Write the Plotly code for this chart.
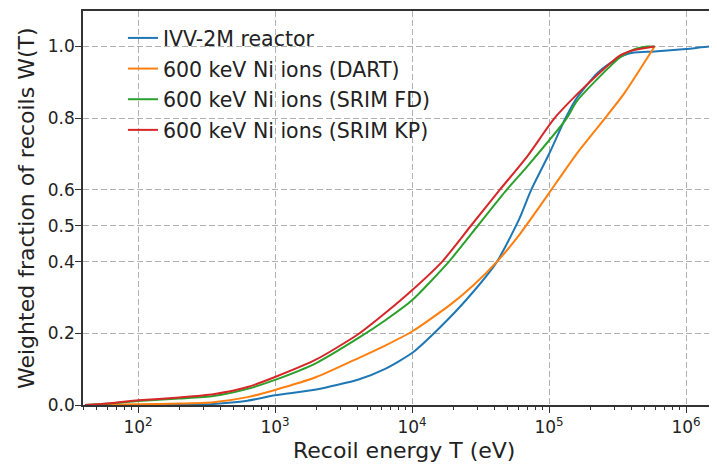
import plotly.graph_objects as go

# ---- data ----
reactor_T = [41, 100, 200, 355, 631, 1000, 2000, 4070, 6310, 10000, 15850, 25100,
             41700, 60300, 74100, 100000, 131800, 158500, 224000, 302000, 355000,
             417000, 589000, 1000000, 1479000, 1660000]
reactor_W = [0.0, 0.0, 0.001, 0.003, 0.012, 0.027, 0.043, 0.071, 0.10, 0.145, 0.215, 0.295,
             0.40, 0.517, 0.60, 0.70, 0.80, 0.855, 0.925, 0.962, 0.976,
             0.983, 0.986, 0.993, 1.0, 1.0]

dart_T = [41, 100, 200, 355, 631, 1000, 2000, 4070, 6310, 10000, 19050, 28180, 41700,
          60300, 72400, 100000, 158500, 269000, 355000, 589000]
dart_W = [0.0, 0.002, 0.004, 0.008, 0.022, 0.042, 0.078, 0.131, 0.165, 0.205, 0.28, 0.335, 0.40,
          0.473, 0.515, 0.591, 0.70, 0.81, 0.87, 1.0]

srim_fd_T = [41, 63, 100, 200, 355, 631, 1000, 2000, 4070, 6310, 10000, 18600, 30200,
             49000, 69200, 134900, 158500, 234400, 331000, 417000, 525000, 589000]
srim_fd_W = [0.0, 0.004, 0.011, 0.018, 0.025, 0.045, 0.070, 0.117, 0.187, 0.235, 0.292, 0.40, 0.50,
             0.60, 0.665, 0.80, 0.846, 0.916, 0.97, 0.992, 1.0, 1.0]

srim_kp_T = [41, 63, 100, 200, 355, 631, 1000, 2000, 4070, 6310, 10000, 16600, 26900,
             43650, 69200, 109600, 158500, 224000, 331000, 417000, 589000]
srim_kp_W = [0.0, 0.005, 0.013, 0.021, 0.030, 0.050, 0.078, 0.127, 0.198, 0.255, 0.320, 0.40, 0.50,
             0.60, 0.693, 0.80, 0.865, 0.92, 0.975, 0.99, 1.0]

series_names = ["IVV-2M reactor", "600 keV Ni ions (DART)",
                "600 keV Ni ions (SRIM FD)", "600 keV Ni ions (SRIM KP)"]
series_colors = ["#1f77b4", "#ff7f0e", "#2ca02c", "#d62728"]

x_tickvals = [1e2, 1e3, 1e4, 1e5, 1e6]
x_ticktext = ["10<sup>2</sup>", "10<sup>3</sup>", "10<sup>4</sup>", "10<sup>5</sup>", "10<sup>6</sup>"]
y_tickvals = [0.0, 0.2, 0.4, 0.5, 0.6, 0.8, 1.0]
y_ticktext = ["0.0", "0.2", "0.4", "0.5", "0.6", "0.8", "1.0"]

x_title = "Recoil energy T (eV)"
y_title = "Weighted fraction of recoils W(T)"

minor_vals = [m * 10 ** k for k in range(1, 7) for m in range(2, 10)]

fig = go.Figure()
for name, color, xs, ys in zip(series_names, series_colors,
                               [reactor_T, dart_T, srim_fd_T, srim_kp_T],
                               [reactor_W, dart_W, srim_fd_W, srim_kp_W]):
    fig.add_trace(go.Scatter(x=xs, y=ys, mode="lines", name=name, legendgroup=name,
                             line=dict(color=color, width=2, shape="spline", smoothing=0.6)))

axis_color = "#333333"
font_family = "DejaVu Sans"
text_color = "#222222"

# the page body has an 8px margin, so the figure is drawn 8px in from the top-left
fig.update_layout(
    width=709, height=456,
    margin=dict(l=75, r=0, t=3, b=59, autoexpand=False),
    paper_bgcolor="white", plot_bgcolor="white",
    font=dict(family=font_family, color=text_color, size=17),
    showlegend=True,
    legend=dict(x=0.063, y=0.982, xanchor="left", yanchor="top",
                font=dict(size=20.5, family=font_family, color=text_color),
                bgcolor="rgba(255,255,255,0)", tracegroupgap=1),
    xaxis=dict(
        type="log", range=[1.5985, 6.226], automargin=False,
        tickmode="array", tickvals=x_tickvals, ticktext=x_ticktext,
        ticks="outside", ticklen=6, tickwidth=1.3, tickcolor=axis_color,
        tickfont=dict(size=17),
        showline=True, linecolor=axis_color, linewidth=1.5, mirror=True,
        showgrid=True, gridcolor="#b0b0b0", gridwidth=1, griddash="6px,3px",
        minor=dict(tickmode="array", tickvals=minor_vals, ticks="outside",
                   ticklen=3.5, tickwidth=1, tickcolor=axis_color, showgrid=False),
        zeroline=False,
    ),
    yaxis=dict(
        range=[0, 1.099], automargin=False,
        tickmode="array", tickvals=y_tickvals, ticktext=y_ticktext,
        ticks="outside", ticklen=6, tickwidth=1.3, tickcolor=axis_color,
        tickfont=dict(size=17), ticklabelstandoff=-3,
        showline=True, linecolor=axis_color, linewidth=1.5,
        showgrid=True, gridcolor="#b0b0b0", gridwidth=1, griddash="6px,3px",
        zeroline=False,
    ),
    annotations=[
        dict(text=x_title, xref="paper", yref="paper", x=0.506, y=-0.1156,
             xanchor="center", yanchor="middle", showarrow=False,
             font=dict(size=22, family=font_family, color=text_color)),
        dict(text=y_title, xref="paper", yref="paper", x=-0.0899, y=0.5,
             xanchor="center", yanchor="middle", showarrow=False, textangle=-90,
             font=dict(size=22, family=font_family, color=text_color)),
    ],
)

fig.write_html("out.html")
